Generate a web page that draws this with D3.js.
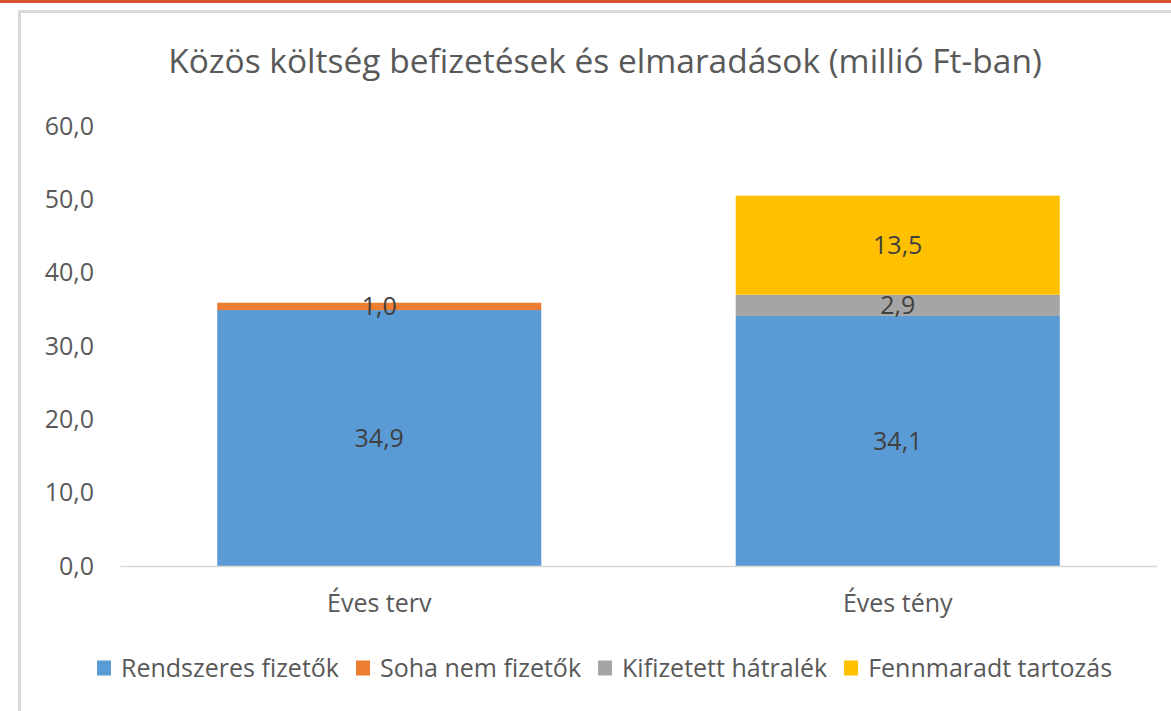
<!DOCTYPE html>
<html lang="hu">
<head>
<meta charset="UTF-8">
<title>Közös költség</title>
<script src="https://d3js.org/d3.v7.min.js"></script>
<style>
  body { margin: 0; background: #fff; }
  svg { display: block; font-family: "Open Sans", sans-serif; }
</style>
</head>
<body>
<svg id="chart" width="1171" height="711"></svg>
<script>
const categories = ['Éves terv', 'Éves tény'];
const seriesNames = ['Rendszeres fizetők', 'Soha nem fizetők', 'Kifizetett hátralék', 'Fennmaradt tartozás'];
const rendszeres = [34.9, 34.1];
const soha = [1.0, 0];
const kifizetett = [0, 2.9];
const fennmaradt = [0, 13.5];
const yTicks = [0, 10, 20, 30, 40, 50, 60];
const colors = ['#5B9BD5', '#ED7D31', '#A5A5A5', '#FFC000'];

const svg = d3.select('#chart');

// page decoration: orange rule on top, grey chart frame
svg.append('rect').attr('x', 0).attr('y', 0).attr('width', 1171).attr('height', 3).attr('fill', '#D9512C');
svg.append('rect').attr('x', 19.5).attr('y', 11.5).attr('width', 1200).attr('height', 800)
  .attr('fill', 'none').attr('stroke', '#D9D9D9').attr('stroke-width', 3);

const data = categories.map((c, i) => ({
  cat: c,
  'Rendszeres fizetők': rendszeres[i],
  'Soha nem fizetők': soha[i],
  'Kifizetett hátralék': kifizetett[i],
  'Fennmaradt tartozás': fennmaradt[i]
}));

const stacked = d3.stack().keys(seriesNames)(data);

const x = d3.scaleBand().domain(categories).range([120, 1157]).paddingInner(0.375).paddingOuter(0.1875);
const y = d3.scaleLinear().domain([0, 60]).range([566, 126]);

const fs = '25px';

// title
svg.append('text')
  .attr('x', 605).attr('y', 73)
  .attr('text-anchor', 'middle')
  .attr('fill', '#595959')
  .style('font-size', '33.5px')
  .text('Közös költség befizetések és elmaradások (millió Ft-ban)');

// y axis labels
const fmt = v => d3.format('.1f')(v).replace('.', ',');
svg.append('g').selectAll('text').data(yTicks).join('text')
  .attr('x', 94).attr('y', d => y(d))
  .attr('dy', '0.35em')
  .attr('text-anchor', 'end')
  .attr('fill', '#595959')
  .style('font-size', fs)
  .text(fmt);

// bars
const g = svg.append('g').selectAll('g.series').data(stacked).join('g')
  .attr('class', 'series')
  .attr('fill', (d, i) => colors[i]);

g.selectAll('rect').data(d => d).join('rect')
  .attr('x', d => x(d.data.cat))
  .attr('width', x.bandwidth())
  .attr('y', d => y(d[1]))
  .attr('height', d => y(d[0]) - y(d[1]));

// baseline + category labels
const xAxis = d3.axisBottom(x).tickSize(0).tickPadding(28);
const ax = svg.append('g').attr('transform', `translate(0,${y(0)})`).call(xAxis);
ax.select('.domain').attr('stroke', '#D9D9D9').attr('stroke-width', 1.5);
ax.selectAll('text').attr('fill', '#595959').style('font-size', fs).style('font-family', '"Open Sans", sans-serif');

// data labels
svg.append('g').selectAll('g').data(stacked).join('g')
  .selectAll('text').data(d => d.filter(p => p[1] - p[0] > 0)).join('text')
  .attr('x', d => x(d.data.cat) + x.bandwidth() / 2)
  .attr('y', d => (y(d[0]) + y(d[1])) / 2)
  .attr('dy', '0.35em')
  .attr('text-anchor', 'middle')
  .attr('fill', '#404040')
  .style('font-size', fs)
  .text(d => fmt(d[1] - d[0]));

// legend
const legend = svg.append('g').attr('transform', 'translate(0,668)');
let lx = 97;
seriesNames.forEach((name, i) => {
  legend.append('rect').attr('x', lx).attr('y', -7.5).attr('width', 14).attr('height', 15).attr('fill', colors[i]);
  const t = legend.append('text').attr('x', lx + 24).attr('y', 0).attr('dy', '0.35em')
    .attr('fill', '#595959').style('font-size', fs).text(name);
  lx += 24 + t.node().getComputedTextLength() + 17;
});
</script>
</body>
</html>
